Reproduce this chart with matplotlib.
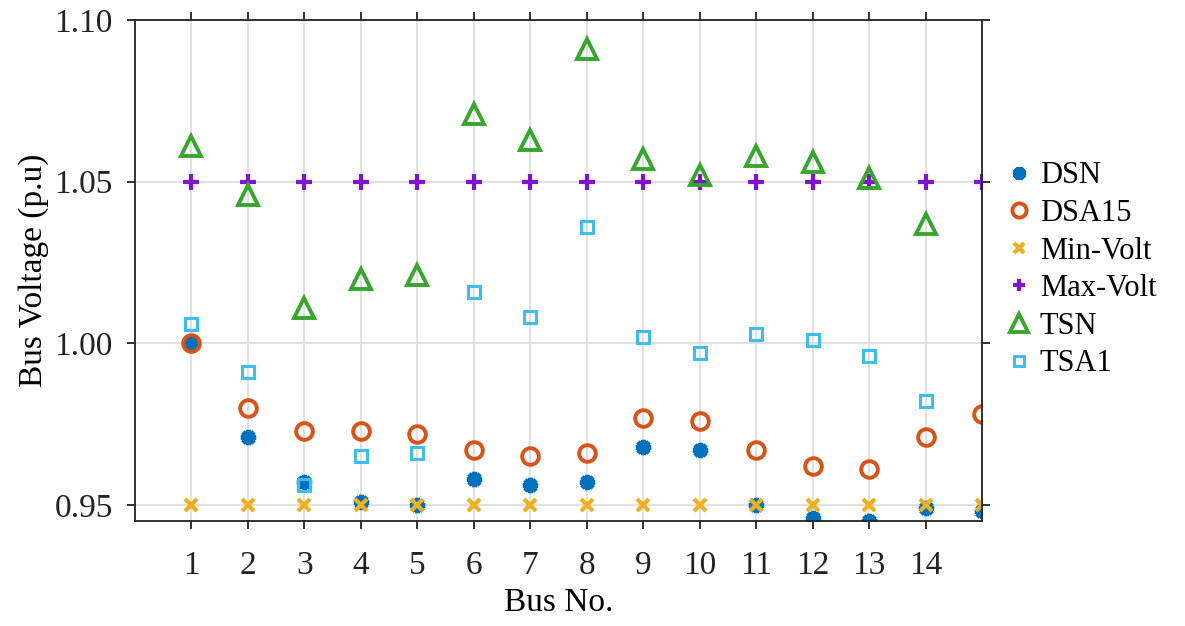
import matplotlib
matplotlib.use("Agg")
import matplotlib.pyplot as plt

bus = list(range(1, 16))
dsn = [1.000, 0.971, 0.957, 0.951, 0.950, 0.958, 0.956, 0.957, 0.968, 0.967, 0.950, 0.946, 0.945, 0.949, 0.948]
dsa15 = [1.000, 0.980, 0.973, 0.973, 0.972, 0.967, 0.965, 0.966, 0.977, 0.976, 0.967, 0.962, 0.961, 0.971, 0.978]
min_volt = [0.95] * 15
max_volt = [1.05] * 15
bus_ts = list(range(1, 15))
tsn = [1.061, 1.046, 1.011, 1.020, 1.021, 1.071, 1.063, 1.091, 1.057, 1.052, 1.058, 1.056, 1.051, 1.037]
tsa1 = [1.006, 0.991, 0.956, 0.965, 0.966, 1.016, 1.008, 1.036, 1.002, 0.997, 1.003, 1.001, 0.996, 0.982]

xticks = list(range(1, 15))
yticks = [0.95, 1.00, 1.05, 1.10]

plt.rcParams['font.family'] = ['Liberation Serif', 'DejaVu Serif']

fig = plt.figure(figsize=(11.85, 6.26), dpi=100)
ax = fig.add_axes([0.1139, 0.1677, 0.7148, 0.8003])

c_dsn = '#0072BD'
c_dsa = '#D95319'
c_min = '#EDB120'
c_max = '#7E14D0'
c_tsn = '#36A62C'
c_tsa = '#3DBEEE'

ax.plot(bus, dsn, linestyle='none', marker=(8, 2, 0), ms=11, mew=3.4, color=c_dsn, label='DSN')
ax.plot(bus, dsa15, linestyle='none', marker='o', ms=12, mew=2.8, mfc='none', mec=c_dsa, label='DSA15')
ax.plot(bus, min_volt, linestyle='none', marker='x', ms=8, mew=3, color=c_min, label='Min-Volt')
ax.plot(bus, max_volt, linestyle='none', marker='+', ms=11, mew=3, color=c_max, label='Max-Volt')
ax.plot(bus_ts, tsn, linestyle='none', marker='^', ms=15, mew=2.8, mfc='none', mec=c_tsn, label='TSN')
ax.plot(bus_ts, tsa1, linestyle='none', marker='s', ms=9, mew=2.2, mfc='none', mec=c_tsa, label='TSA1')

ax.set_xlim(0, 15)
ax.set_ylim(0.945, 1.10)
ax.set_xticks(xticks)
ax.set_yticks(yticks)
ax.set_yticklabels([f'{v:.2f}' for v in yticks])
ax.grid(True, color='#dcdcdc', linewidth=1.2)
ax.set_axisbelow(True)

ax.tick_params(axis='both', which='major', direction='out', length=6, width=1.3,
               labelsize=24, top=True, right=True, colors='#222222')
ax.tick_params(axis='x', pad=15)
ax.tick_params(axis='y', pad=10)
for s in ax.spines.values():
    s.set_linewidth(1.3)
    s.set_color('#222222')

ax.set_xlabel('Bus No.', fontsize=24, labelpad=5)
ax.set_ylabel('Bus Voltage (p.u)', fontsize=24, labelpad=4)

leg = fig.legend(loc='center left', bbox_to_anchor=(0.826, 0.569), frameon=False,
                 fontsize=22, handletextpad=0.3, handlelength=0.8, labelspacing=0.28,
                 markerscale=0.85)

fig.savefig('out.png', dpi=100)
